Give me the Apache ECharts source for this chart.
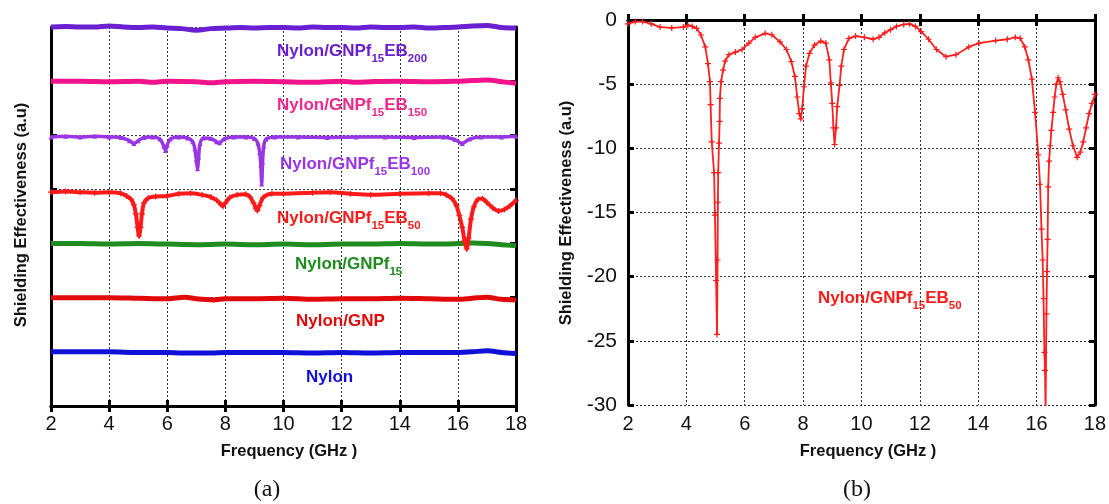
<!DOCTYPE html>
<html>
<head>
<meta charset="utf-8">
<script src="https://cdn.jsdelivr.net/npm/echarts@6/dist/echarts.min.js"></script>
<style>
html,body{margin:0;padding:0;background:#fff;}
#c{width:1109px;height:504px;}
</style>
</head>
<body>
<div id="c"></div>
<script>
// ---------- data (a): offset curves, arbitrary units ----------
var xTicks = [2, 4, 6, 8, 10, 12, 14, 16, 18];

var eb200F = [2,2.5,3,3.5,4,4.5,5,5.5,6,6.5,7,7.5,8,8.5,9,9.5,10,10.5,11,11.5,12,12.5,13,13.5,14,14.5,15,15.5,16,16.5,17,17.5,18];
var eb200V = [7.0,7.01,7.0,7.0,7.02,7.0,6.99,7.0,6.98,6.97,6.94,6.97,6.98,6.99,6.98,6.99,6.99,6.98,7.0,6.99,6.99,6.98,7.0,6.99,6.99,7.0,6.98,6.99,7.0,7.02,7.03,6.99,6.98];

var eb150F = [2,3,4,5,5.5,6,7,7.5,8,9,10,11,12,12.5,13,14,15,16,16.5,17,17.5,18];
var eb150V = [6.0,6.0,5.99,6.0,5.98,6.0,5.99,5.97,5.99,6.0,5.99,5.98,6.0,5.98,5.99,6.0,5.99,6.0,6.01,6.02,5.99,5.96];

var eb100F = [2,2.5,3,3.5,4,4.4,4.7,4.85,5,5.2,5.5,5.75,5.88,5.94,6,6.1,6.4,6.7,6.88,6.95,7,7.04,7.08,7.13,7.25,7.5,7.7,7.8,7.95,8.3,8.7,9,9.12,9.18,9.22,9.25,9.28,9.32,9.4,9.7,10.5,11.5,12.5,13.5,14.5,15.5,15.9,16.15,16.4,16.8,17.5,18];
var eb100V = [4.97,4.98,4.97,4.98,4.97,4.96,4.9,4.85,4.9,4.96,4.97,4.93,4.8,4.72,4.82,4.93,4.97,4.95,4.88,4.75,4.55,4.38,4.6,4.85,4.95,4.94,4.88,4.86,4.93,4.97,4.97,4.94,4.85,4.68,4.45,4.1,4.5,4.8,4.93,4.97,4.97,4.96,4.97,4.97,4.96,4.97,4.92,4.85,4.93,4.97,4.97,4.98];

var eb50aF = [2,2.5,3,3.5,4,4.4,4.6,4.75,4.85,4.92,4.98,5.03,5.08,5.13,5.2,5.35,5.6,6,6.4,6.8,7.2,7.5,7.7,7.85,7.92,8,8.15,8.4,8.7,8.85,8.97,9.05,9.1,9.17,9.3,9.6,10,11,11.6,12.3,13,14,15,15.4,15.6,15.8,15.95,16.05,16.15,16.23,16.3,16.37,16.45,16.55,16.7,16.85,17,17.2,17.4,17.6,17.8,18];
var eb50aV = [3.95,3.96,3.95,3.94,3.95,3.93,3.88,3.82,3.72,3.55,3.3,3.14,3.3,3.55,3.75,3.84,3.87,3.88,3.92,3.93,3.9,3.86,3.8,3.72,3.69,3.75,3.85,3.9,3.91,3.86,3.75,3.65,3.61,3.7,3.85,3.92,3.92,3.94,3.95,3.92,3.9,3.92,3.93,3.93,3.9,3.83,3.7,3.52,3.3,3.05,2.9,3.1,3.45,3.68,3.82,3.83,3.76,3.66,3.6,3.63,3.7,3.8];

var gnpf15F = [2,3,4,5,6,7,8,9,10,11,12,13,14,15,16,16.5,17,17.5,18];
var gnpf15V = [3.0,3.0,2.99,3.0,2.99,2.98,2.99,2.98,2.99,2.98,2.99,2.99,3.0,2.99,3.0,3.01,3.0,2.98,2.96];

var gnpF = [2,3,4,5,6,6.6,7,7.6,8,9,10,11,12,13,14,15,16,16.5,17,17.5,18];
var gnpV = [2.0,2.0,2.0,1.99,1.98,2.01,1.98,1.96,1.98,1.98,1.99,1.97,1.98,1.98,1.99,1.98,1.97,1.99,2.01,1.97,1.96];

var nylonF = [2,3,4,5,6,6.5,7,7.5,8,9,10,11,12,13,14,15,16,16.5,17,17.5,18];
var nylonV = [1.0,1.0,1.0,0.99,0.99,0.98,0.98,0.98,0.99,0.99,0.99,0.98,0.99,0.98,0.99,0.99,0.99,1.0,1.02,0.99,0.97];

// ---------- data (b): Nylon/GNPf15EB50, dB ----------
var ebF = [2.0,2.25,2.5,2.8,3.1,3.5,3.9,4.05,4.2,4.35,4.5,4.65,4.74,4.81,4.83,4.87,4.95,4.98,5.02,5.05,5.07,5.08,5.09,5.12,5.14,5.15,5.19,5.26,5.33,5.46,5.68,5.91,6.14,6.36,6.7,6.93,7.21,7.43,7.6,7.72,7.8,7.87,7.92,7.97,8.03,8.1,8.22,8.39,8.61,8.78,8.9,8.95,9.0,9.04,9.08,9.13,9.17,9.25,9.31,9.4,9.57,9.8,10.1,10.4,10.6,10.8,11.0,11.2,11.45,11.65,11.85,12.05,12.3,12.57,12.9,13.24,13.68,14.03,14.6,15.0,15.27,15.44,15.6,15.72,15.84,15.95,16.06,16.12,16.17,16.21,16.24,16.27,16.29,16.31,16.34,16.36,16.38,16.4,16.43,16.47,16.51,16.57,16.62,16.68,16.74,16.8,16.9,17.0,17.12,17.25,17.39,17.5,17.6,17.7,17.8,17.9,18.0];
var ebV = [-0.3,-0.12,-0.12,-0.3,-0.55,-0.62,-0.55,-0.4,-0.5,-0.65,-1.17,-2.1,-3.4,-4.8,-6.6,-9.5,-11.9,-15.2,-20.3,-24.5,-18.7,-14.2,-11.9,-9.6,-7.9,-6.1,-4.8,-3.9,-3.2,-2.7,-2.5,-2.3,-1.8,-1.35,-1.04,-1.15,-1.7,-2.3,-3.25,-4.4,-6.0,-7.3,-7.7,-6.9,-5.2,-3.6,-2.6,-1.95,-1.64,-1.8,-3.1,-4.9,-6.5,-8.4,-9.7,-8.4,-6.75,-5.1,-3.6,-2.3,-1.43,-1.25,-1.35,-1.5,-1.35,-1.0,-0.75,-0.5,-0.35,-0.3,-0.5,-0.9,-1.5,-2.3,-2.86,-2.7,-2.1,-1.8,-1.6,-1.5,-1.35,-1.43,-2.1,-3.1,-4.6,-7.2,-10.5,-12.8,-16.3,-18.7,-21.7,-25.9,-27.3,-30.5,-22.9,-19.6,-17.1,-13.0,-11.0,-9.8,-8.6,-7.2,-6.0,-5.0,-4.5,-4.8,-5.8,-7.0,-8.5,-9.8,-10.7,-10.3,-9.5,-8.4,-7.3,-6.5,-5.8];

function pairs(f, v) { return f.map(function (x, i) { return [x, v[i]]; }); }

var FONT = '"Liberation Sans", Arial, sans-serif';
var plusPath = 'path://M2,0H3V2H5V3H3V5H2V3H0V2H2Z';
var gridLine = { show: true, lineStyle: { color: '#333', width: 1, type: [2, 2] } };
var axLine = { show: true, lineStyle: { color: '#000', width: 3 } };
var axTick = { show: true, inside: true, length: 6, lineStyle: { color: '#000', width: 3 } };
var tickLab = { show: true, fontFamily: FONT, fontSize: 20, color: '#111' };

function xAx(grid, pos, labels, split, margin) {
  return { type: 'value', gridIndex: grid, position: pos, min: 2, max: 18, interval: 2,
    axisLine: axLine, axisTick: axTick,
    axisLabel: labels ? Object.assign({}, tickLab, { margin: margin }) : { show: false },
    splitLine: split ? gridLine : { show: false } };
}

function lineSeries(name, f, v, color, opts) {
  var s = { type: 'line', name: name, xAxisIndex: 0, yAxisIndex: 0, data: pairs(f, v),
    clip: false, showSymbol: false, smooth: 0.3,
    lineStyle: { color: color, width: 5 }, itemStyle: { color: color } };
  return Object.assign(s, opts || {});
}

function label(x, yc, color, main, s1, main2, s2) {
  var t = '{m|' + main + '}';
  if (s1) t += '{s|' + s1 + '}';
  if (main2) t += '{m|' + main2 + '}';
  if (s2) t += '{s|' + s2 + '}';
  return { type: 'text', left: x, top: yc - 9, z: 100,
    style: { text: t, fill: color,
      rich: {
        m: { fontFamily: FONT, fontWeight: 'bold', fontSize: 17, lineHeight: 17, verticalAlign: 'top', fill: color },
        s: { fontFamily: FONT, fontWeight: 'bold', fontSize: 11.5, lineHeight: 12, padding: [10, 0, 0, 0], verticalAlign: 'top', fill: color }
      } } };
}

function plainText(x, y, txt, font, rot) {
  return { type: 'text', x: x, y: y, rotation: rot || 0, z: 100,
    style: { text: txt, font: font, fill: '#111', align: 'center', verticalAlign: 'middle' } };
}

var chart = echarts.init(document.getElementById('c'), null, { renderer: 'canvas' });
chart.setOption({
  animation: false,
  backgroundColor: '#fff',
  grid: [
    { left: 51, top: 27, width: 465, height: 379 },
    { left: 628, top: 20, width: 472, height: 385 }
  ],
  xAxis: [
    xAx(0, 'bottom', true, true, 8),
    xAx(0, 'top', false, false),
    xAx(1, 'bottom', true, true, 9),
    xAx(1, 'top', false, false)
  ],
  yAxis: [
    { type: 'value', gridIndex: 0, position: 'left', min: 0, max: 7, interval: 1,
      axisLine: axLine, axisTick: axTick, axisLabel: { show: false }, splitLine: gridLine },
    { type: 'value', gridIndex: 0, position: 'right', min: 0, max: 7, interval: 1,
      axisLine: axLine, axisTick: axTick, axisLabel: { show: false }, splitLine: { show: false } },
    { type: 'value', gridIndex: 1, position: 'left', min: -30, max: 0, interval: 5,
      axisLine: axLine, axisTick: axTick, axisLabel: Object.assign({}, tickLab, { margin: 11, fontSize: 21 }), splitLine: gridLine },
    { type: 'value', gridIndex: 1, position: 'right', min: -30, max: 0, interval: 5,
      axisLine: axLine, axisTick: axTick, axisLabel: { show: false }, splitLine: { show: false } }
  ],
  series: [
    lineSeries('Nylon', nylonF, nylonV, '#1010d8'),
    lineSeries('Nylon/GNP', gnpF, gnpV, '#e00a0a'),
    lineSeries('Nylon/GNPf15', gnpf15F, gnpf15V, '#1e8c1e'),
    lineSeries('Nylon/GNPf15EB50', eb50aF, eb50aV, '#ff1a1a',
      { showSymbol: true, symbol: plusPath, symbolSize: 6, lineStyle: { color: '#ff1a1a', width: 4 } }),
    lineSeries('Nylon/GNPf15EB100', eb100F, eb100V, '#9a35e6',
      { showSymbol: true, symbol: 'triangle', symbolSize: 5, lineStyle: { color: '#9a35e6', width: 3.5 } }),
    lineSeries('Nylon/GNPf15EB150', eb150F, eb150V, '#f0148c'),
    lineSeries('Nylon/GNPf15EB200', eb200F, eb200V, '#6a20d0'),
    { type: 'line', name: 'Nylon/GNPf15EB50 (b)', xAxisIndex: 2, yAxisIndex: 2, data: pairs(ebF, ebV),
      clip: true, showSymbol: true, symbol: plusPath, symbolSize: 6,
      lineStyle: { color: '#ff2020', width: 1.8 }, itemStyle: { color: '#ff1a1a' } }
  ],
  graphic: [
    label(277, 52, '#6a20d0', 'Nylon/GNPf', '15', 'EB', '200'),
    label(277, 106, '#f0288c', 'Nylon/GNPf', '15', 'EB', '150'),
    label(280, 165, '#9a35e6', 'Nylon/GNPf', '15', 'EB', '100'),
    label(277, 219, '#ff1a1a', 'Nylon/GNPf', '15', 'EB', '50'),
    label(295, 265, '#1e8c1e', 'Nylon/GNPf', '15'),
    label(296, 322, '#e00a0a', 'Nylon/GNP'),
    label(306, 378, '#1010d8', 'Nylon'),
    label(818, 299, '#ff1a1a', 'Nylon/GNPf', '15', 'EB', '50'),
    plainText(289, 451, 'Frequency (GHz )', 'bold 16.5px ' + FONT),
    plainText(868, 451, 'Frequency (GHz )', 'bold 16.5px ' + FONT),
    plainText(21, 215, 'Shielding Effectiveness (a.u)', 'bold 16.5px ' + FONT, Math.PI / 2),
    plainText(566, 213, 'Shielding Effectiveness (a.u)', 'bold 16.5px ' + FONT, Math.PI / 2),
    plainText(267, 490, '(a)', '24px "Liberation Serif", "Times New Roman", serif'),
    plainText(857, 490, '(b)', '24px "Liberation Serif", "Times New Roman", serif')
  ]
});
</script>
</body>
</html>
